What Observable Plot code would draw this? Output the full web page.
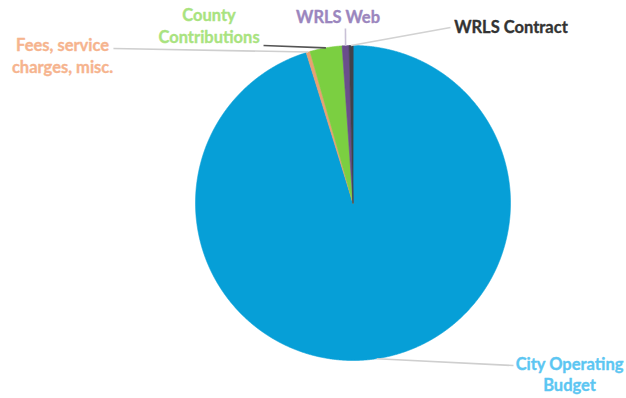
<!DOCTYPE html>
<html>
<head>
<meta charset="utf-8">
<script src="https://cdn.jsdelivr.net/npm/d3@7"></script>
<script src="https://cdn.jsdelivr.net/npm/@observablehq/plot@0.6"></script>
<style>
  html, body { margin: 0; padding: 0; background: #ffffff; }
  #chart svg { display: block; }
</style>
</head>
<body>
<div id="chart"></div>
<script>
// Library revenue sources, share of total (%)
const categories = ["City Operating Budget", "Fees, service charges, misc.", "County Contributions", "WRLS Web", "WRLS Contract"];
const shares = [95.2, 0.4, 3.3, 0.7, 0.4];
const labelLines = ["City Operating\nBudget", "Fees, service\ncharges, misc.", "County\nContributions", "WRLS Web", "WRLS Contract"];

// Styling
const sliceColors = ["#069fd7", "#e8a172", "#7bcf41", "#6a4e8c", "#41414a"];
const labelColors = ["#5cc6f2", "#f6b48e", "#a9e37f", "#9b86be", "#333333"];
const leaderColors = ["#cfcfcf", "#cfcfcf", "#555555", "#c9c1d6", "#d2d2d2"];

// Label layout in pie-radius units (centre of pie = 0,0; y up)
const labelAt = [[1.375, -0.96], [-1.844, 1.064], [-0.914, 1.255], [-0.095, 1.242], [1.003, 1.179]];
const leaderEnd = [[1.019, -1.032], [-1.521, 0.981], [-0.568, 1.0], [-0.048, 1.108], [0.619, 1.114]];

// Pie angles, clockwise from 12 o'clock, in data order
const arcs = d3.pie().sort(null).value(i => shares[i])(d3.range(categories.length));

// Slice outlines as closed polygons: centre, then the arc
const slicePoints = arcs.flatMap(a => {
  const i = a.data;
  const steps = Math.max(2, Math.ceil((a.endAngle - a.startAngle) / (Math.PI / 720)));
  const pts = [{key: categories[i], x: 0, y: 0}];
  for (let k = 0; k <= steps; k++) {
    const t = a.startAngle + (a.endAngle - a.startAngle) * k / steps;
    pts.push({key: categories[i], x: Math.sin(t), y: Math.cos(t)});
  }
  return pts;
});

// Leader lines from each slice's mid-angle on the rim to its label
const leaders = arcs.map(a => {
  const i = a.data;
  const m = (a.startAngle + a.endAngle) / 2;
  return {x1: Math.sin(m), y1: Math.cos(m), x2: leaderEnd[i][0], y2: leaderEnd[i][1], color: leaderColors[i]};
});

const labels = categories.map((c, i) => ({x: labelAt[i][0], y: labelAt[i][1], text: labelLines[i], color: labelColors[i]}));

const colorOf = Object.fromEntries(categories.map((c, i) => [c, sliceColors[i]]));

const chart = Plot.plot({
  width: 626,
  height: 398,
  marginLeft: 195,
  marginRight: 116,
  marginTop: 45,
  marginBottom: 38,
  x: {domain: [-1, 1], axis: null},
  y: {domain: [-1, 1], axis: null},
  color: {type: "identity"},
  style: {background: "#ffffff", overflow: "visible"},
  marks: [
    Plot.line(slicePoints, {
      x: "x", y: "y", z: "key",
      fill: d => colorOf[d.key],
      stroke: d => colorOf[d.key],
      strokeWidth: 0.6,
      curve: "linear-closed"
    }),
    Plot.link(leaders, {
      x1: "x1", y1: "y1", x2: "x2", y2: "y2",
      stroke: "color", strokeWidth: 1.6
    }),
    Plot.text(labels, {
      x: "x", y: "y", text: "text", fill: "color",
      fontSize: 16.5, fontWeight: "bold", fontFamily: "Lato",
      stroke: "color", strokeWidth: 0.35,
      lineAnchor: "top", lineHeight: 1.32, textAnchor: "middle"
    })
  ]
});

document.getElementById("chart").appendChild(chart);
</script>
</body>
</html>
